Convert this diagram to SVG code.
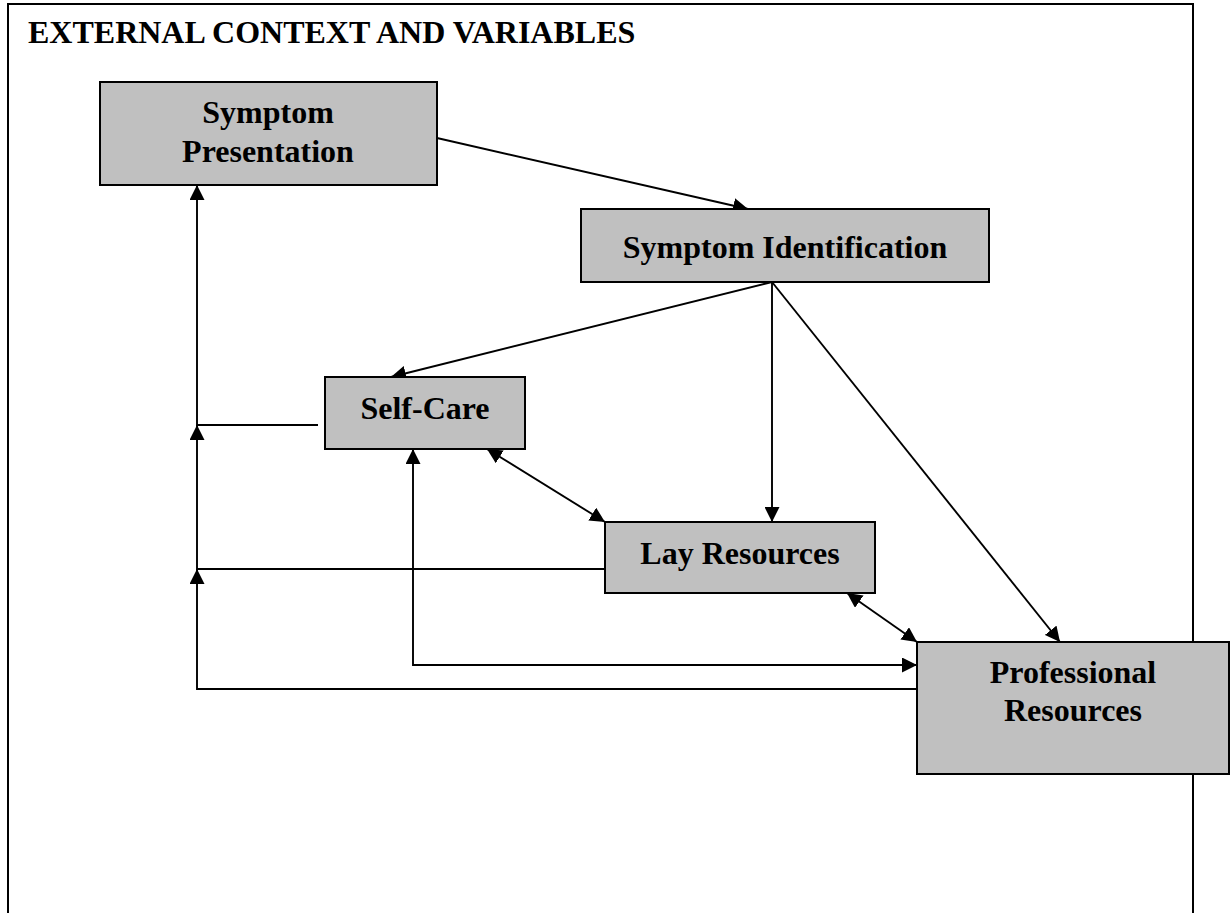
<svg xmlns="http://www.w3.org/2000/svg" width="1231" height="913" viewBox="0 0 1231 913">
  <style>
    .box { fill: #c0c0c0; stroke: #000; stroke-width: 2; }
    .lbl { font-family: "Liberation Serif", "Times New Roman", serif; font-weight: bold; font-size: 32px; fill: #000; text-anchor: middle; }
    .title { font-family: "Liberation Serif", "Times New Roman", serif; font-weight: bold; font-size: 32px; fill: #000; }
    .c { fill: none; stroke: #000; stroke-width: 1.9; }
  </style>
  <defs>
    <marker id="ah" viewBox="0 0 15 15" refX="15" refY="7.5" markerWidth="15" markerHeight="15" markerUnits="userSpaceOnUse" orient="auto-start-reverse">
      <path d="M0,0 L15,7.5 L0,15 z" fill="#000"/>
    </marker>
  </defs>
  <rect width="1231" height="913" fill="#fff"/>
  <g id="frame">
    <path d="M8,920 V4 H1193 V920" fill="none" stroke="#000" stroke-width="2"/>
    <text class="title" x="28" y="43">EXTERNAL CONTEXT AND VARIABLES</text>
  </g>
  <g id="connectors">
    <line class="c" x1="437" y1="138" x2="748" y2="209" marker-end="url(#ah)"/>
    <line class="c" x1="772" y1="282" x2="391" y2="377" marker-end="url(#ah)"/>
    <line class="c" x1="772" y1="282" x2="772" y2="522" marker-end="url(#ah)"/>
    <line class="c" x1="772" y1="282" x2="1060" y2="642" marker-end="url(#ah)"/>
    <line class="c" x1="487" y1="449" x2="605" y2="522" marker-start="url(#ah)" marker-end="url(#ah)"/>
    <line class="c" x1="847" y1="593" x2="917" y2="642" marker-start="url(#ah)" marker-end="url(#ah)"/>
    <path class="c" d="M318,425 H197 V185" marker-end="url(#ah)"/>
    <path class="c" d="M605,569 H197 V425" marker-end="url(#ah)"/>
    <path class="c" d="M917,689 H197 V569" marker-end="url(#ah)"/>
    <path class="c" d="M413,449 V665 H917" marker-start="url(#ah)" marker-end="url(#ah)"/>
  </g>
  <g id="symptom-presentation">
    <rect class="box" x="100" y="82" width="337" height="103"/>
    <text class="lbl" x="268" y="123">Symptom</text>
    <text class="lbl" x="268" y="162">Presentation</text>
  </g>
  <g id="symptom-identification">
    <rect class="box" x="581" y="209" width="408" height="73"/>
    <text class="lbl" x="785" y="258">Symptom Identification</text>
  </g>
  <g id="self-care">
    <rect class="box" x="325" y="377" width="200" height="72"/>
    <text class="lbl" x="425" y="419">Self-Care</text>
  </g>
  <g id="lay-resources">
    <rect class="box" x="605" y="522" width="270" height="71"/>
    <text class="lbl" x="740" y="564">Lay Resources</text>
  </g>
  <g id="professional-resources">
    <rect class="box" x="917" y="642" width="312" height="132"/>
    <text class="lbl" x="1073" y="683">Professional</text>
    <text class="lbl" x="1073" y="721">Resources</text>
  </g>
</svg>
